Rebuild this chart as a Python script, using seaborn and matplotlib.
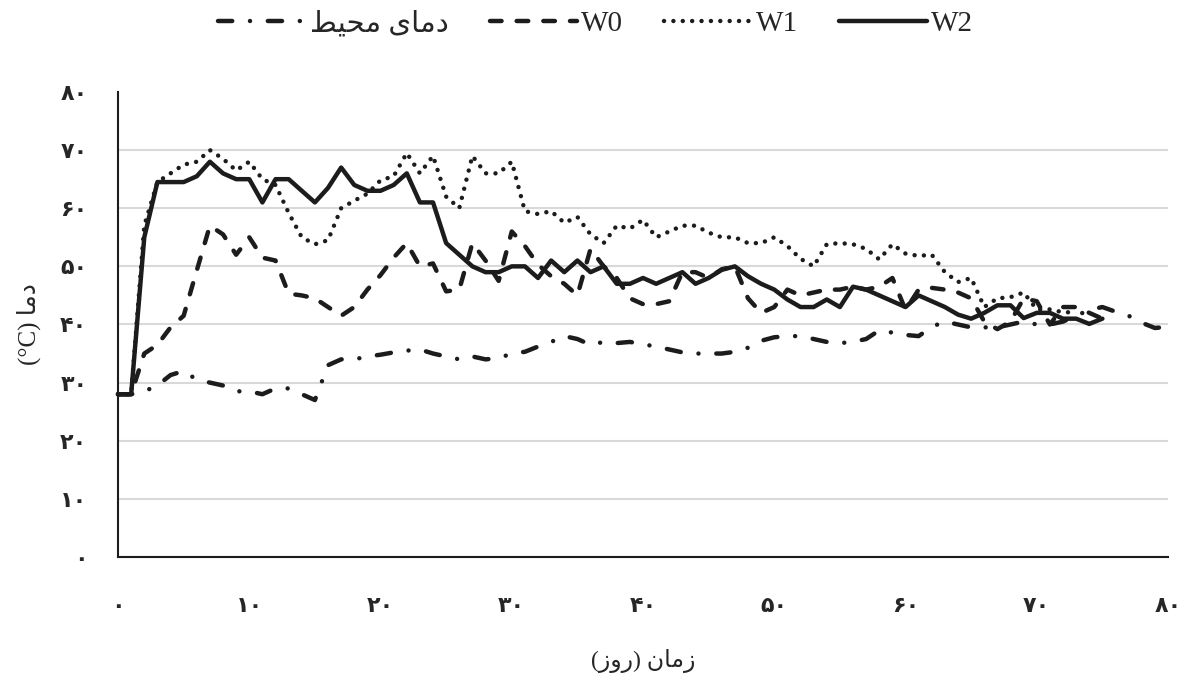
import numpy as np
import pandas as pd
import seaborn as sns
import matplotlib.pyplot as plt

# daily temperatures
days = list(range(0, 81))

ambient = [28, 28, 28.5, 29.5, 31.3, 32, 30.5, 30, 29.5, 28.5,
           28.5, 28, 29, 29, 28, 27, 33, 34, 34, 34.5,
           34.8, 35.2, 35.5, 35.7, 35, 34.5, 34, 34.5, 34, 34.2,
           35, 35.3, 36.2, 37, 38, 37.5, 36.5, 37, 36.8, 37,
           36.6, 36.2, 35.7, 35.2, 35, 35, 35, 35.3, 36, 37.2,
           37.8, 38, 38, 37.5, 37, 36.8, 37, 37.5, 39, 38.6,
           38.2, 38, 39.6, 40.5, 40, 39.5, 39.5, 39.5, 40, 40.5,
           40, 40, 40.5, 41.5, 42.5, 43, 42.2, 41.5, 40.3, 39.4,
           39.6]

w0 = [28, 28, 35, 36.5, 39.5, 41.5, 49.3, 57, 55.5, 52,
      55, 51.5, 51, 45.3, 45, 44.5, 43, 41.5, 43, 46,
      48.5, 51.5, 54, 50, 50.5, 45.7, 46, 54, 51, 47.5,
      56, 53.5, 50.3, 48.3, 47, 45, 53, 50, 48, 44.5,
      43.5, 43.5, 44, 49, 49, 48, 49.5, 50, 44.5, 42,
      43, 46, 45, 45.5, 46, 46, 46.5, 46, 46.5, 48,
      42.5, 46, 46.3, 46, 45.5, 44.5, 40.5, 39.2, 40.5, 44.5,
      44, 40, 43, 43, 42, 41]

w1 = [28, 28, 57, 64.5, 66, 67.5, 68, 70, 68.5, 66.5,
      68, 65, 64, 59.2, 55, 53.8, 54.5, 60, 61.3, 62.5,
      64.8, 65.5, 69.5, 66, 69, 62, 60, 69, 66, 66,
      68, 59.5, 59, 59.5, 57.5, 58.5, 55.5, 54, 57, 56.5,
      58, 55, 56, 57, 57, 55.8, 55, 55, 54, 54,
      55, 53.5, 51.3, 50, 53.8, 54, 53.8, 53, 51.2, 53.8,
      52.2, 51.8, 52, 49, 47.3, 48, 43, 44.5, 44.7, 45.5,
      42.6, 42.6, 42.1, 42.1]

w2 = [28, 28, 55, 64.5, 64.5, 64.5, 65.5, 68, 66, 65,
      65, 61, 65, 65, 63, 61, 63.5, 67, 64, 63,
      63, 64, 66, 61, 61, 54, 52, 50, 49, 49,
      50, 50, 48, 51, 49, 51, 49, 50, 47, 47,
      48, 47, 48, 49, 47, 48, 49.4, 50, 48.3, 47,
      46, 44.3, 43, 43, 44.3, 43, 46.5, 46, 45, 44,
      43, 45, 44, 43, 41.7, 41, 42, 43.3, 43.3, 41.1,
      42, 42, 41, 41, 40.1, 41]

series = [ambient, w0, w1, w2]

fa_digits = str.maketrans('0123456789', '۰۱۲۳۴۵۶۷۸۹')

# Persian labels, pre-shaped in visual order
lbl_ambient = '\uFEC2\uFEF4\uFEA4\uFEE3 \uFEEF\uFE8E\uFEE3\uFEA9'
lbl_x = '(\uFEAF\uFEED\uFEAD) \uFEE5\uFE8E\uFEE3\uFEAF'
lbl_y = '(°C) \uFE8E\uFEE3\uFEA9'
labels = [lbl_ambient, 'W0', 'W1', 'W2']

sns.set_style('white')
plt.rcParams['font.family'] = ['Liberation Serif', 'DejaVu Sans']

ink = '#1c1c1c'
lw = 3.2
dash_styles = [(3.2, 4.0, 0.01, 4.0), (2.6, 3.4), (0.01, 2.1), None]

fig = plt.figure(figsize=(11.91, 6.89), dpi=100)
ax = fig.add_axes([0.0991, 0.1916, 0.8816, 0.6749])

for vals, lab, ds in zip(series, labels, dash_styles):
    sns.lineplot(x=days[:len(vals)], y=vals, ax=ax, color=ink,
                 linewidth=lw, label=lab, legend=False)
    line = ax.lines[-1]
    if ds is not None:
        line.set_dashes(ds)
        line.set_dash_capstyle('round')
    line.set_clip_on(False)

ax.set_xlim(0, 80)
ax.set_ylim(0, 80)
ticks = list(range(0, 81, 10))
ax.set_xticks(ticks)
ax.set_yticks(ticks)
ax.set_xticklabels([str(t).translate(fa_digits) for t in ticks],
                   fontfamily='DejaVu Sans', fontweight='bold', fontsize=16)
ax.set_yticklabels([str(t).translate(fa_digits) for t in ticks],
                   fontfamily='DejaVu Sans', fontweight='bold', fontsize=16)
ax.tick_params(axis='x', length=0, pad=28)
ax.tick_params(axis='y', length=0, pad=22)

ax.grid(axis='y', color='#d9d9d9', linewidth=1.5)
ax.grid(axis='x', visible=False)
ax.get_ygridlines()[-1].set_visible(False)
ax.set_axisbelow(True)

for side in ['top', 'right']:
    ax.spines[side].set_visible(False)
for side in ['left', 'bottom']:
    ax.spines[side].set_color(ink)
    ax.spines[side].set_linewidth(1.5)

ax.set_xlabel(lbl_x, fontsize=17, labelpad=24)
ax.set_ylabel(lbl_y, fontsize=18, labelpad=14)

fig.legend(ax.lines[:4], labels, loc='center', bbox_to_anchor=(0.5, 0.965),
           ncol=4, frameon=False, handlelength=3, handletextpad=0.15,
           columnspacing=1.4, prop={'size': 21})

plt.savefig('out.png', dpi=100)
